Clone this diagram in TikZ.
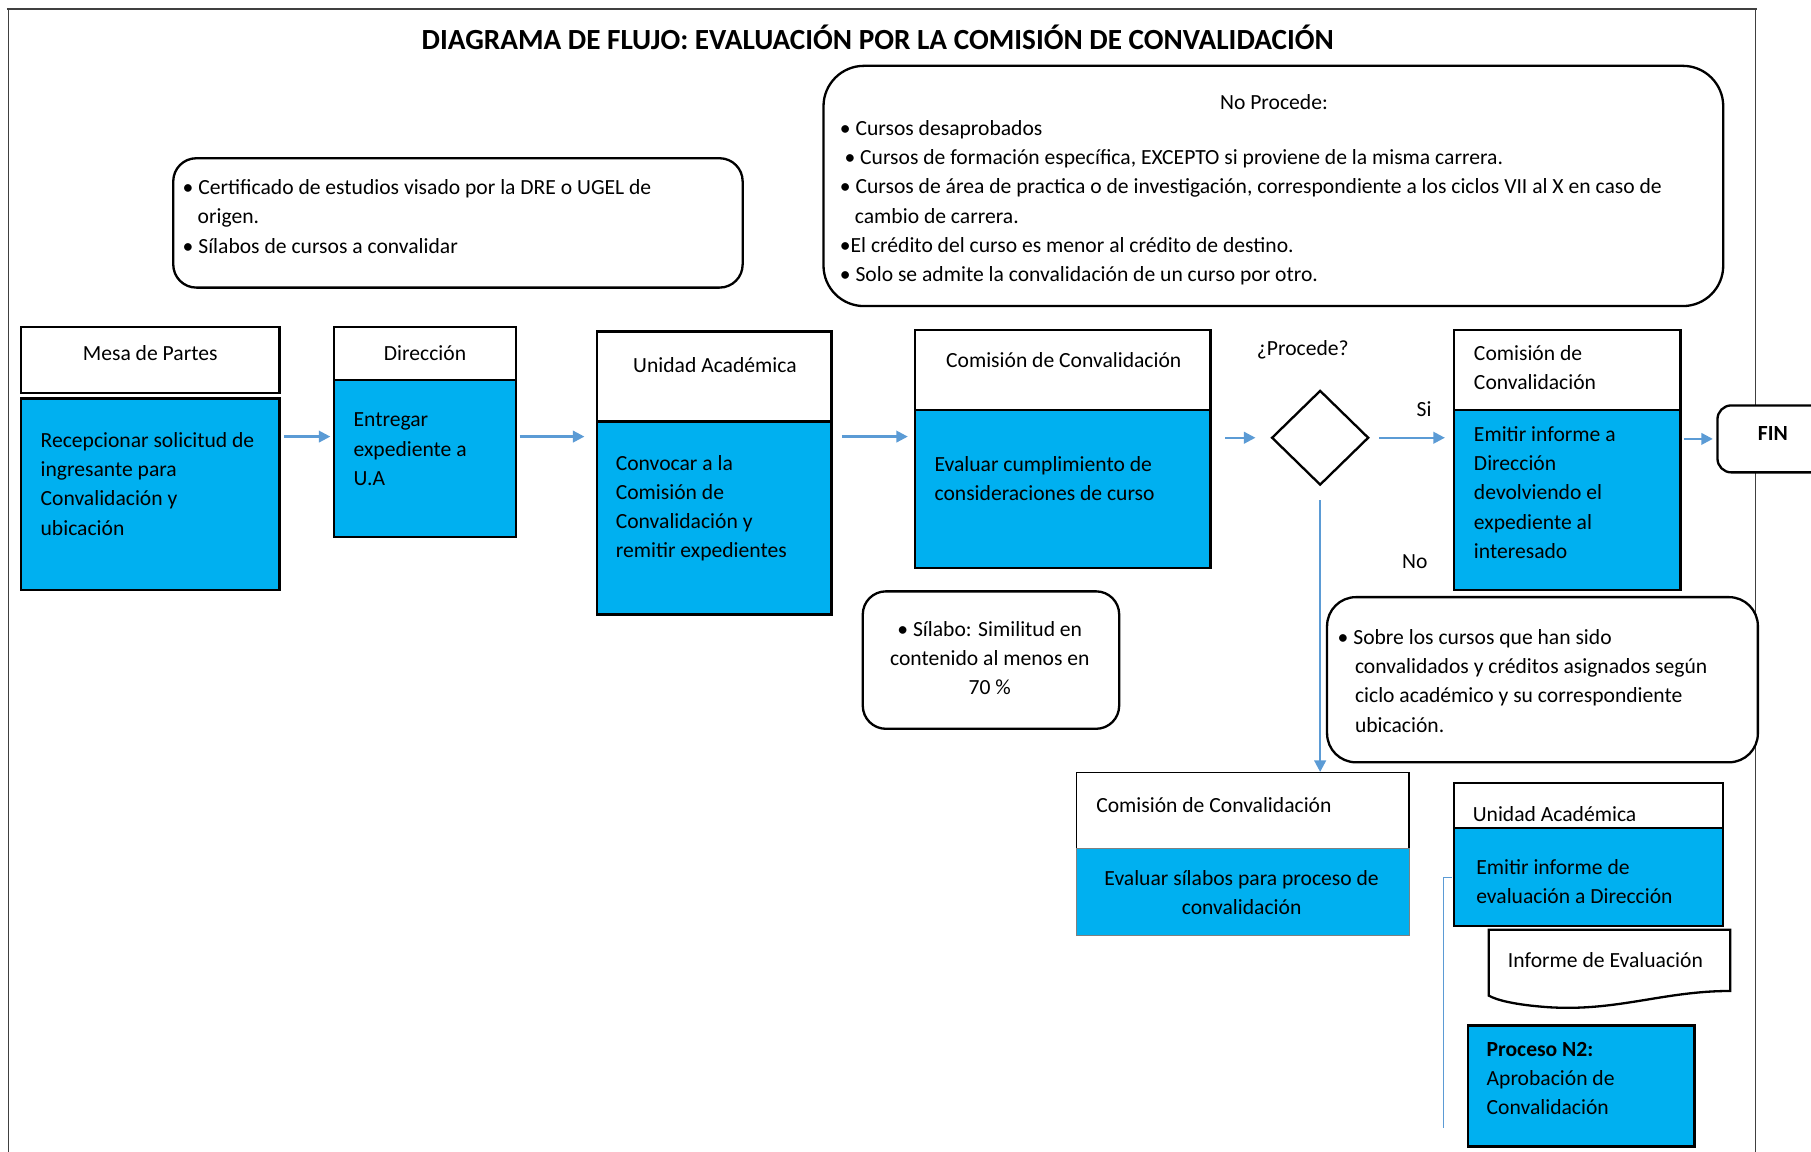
\documentclass[tikz,border=0pt]{standalone}
\usepackage{fontspec}
\setmainfont{Carlito}
\usetikzlibrary{arrows.meta,shapes.geometric,fit}
\definecolor{fillblue}{HTML}{00B0F0}
\definecolor{arrowblue}{HTML}{5B9BD5}
\definecolor{framegray}{HTML}{404040}
\begin{document}
\begin{tikzpicture}[x=1pt,y=-1pt,
  txt/.style={inner sep=0pt, align=left, font=\fontsize{18.7}{25.3}\selectfont},
  ctxt/.style={txt, align=center},
  hdr/.style={draw=black, line width=2pt, fill=white, inner sep=0pt},
  bodybox/.style={draw=black, line width=2pt, fill=fillblue, inner sep=0pt},
  note/.style={draw=black, line width=2pt, rounded corners=20pt, fill=white, inner sep=0pt},
  flow/.style={draw=arrowblue, line width=2pt, -{Triangle[length=10pt,width=10pt]}},
]
\useasboundingbox (0,0) rectangle (1568,997);
% frame
\draw[framegray, line width=1pt] (7,997) -- (7,8);
\draw[framegray, line width=1pt] (1520,8) -- (1520,997);
\draw[framegray, line width=2pt] (6,8) -- (1521,8);
% title
\node[inner sep=0pt, font=\bfseries\fontsize{25.3}{28}\selectfont] (title) at (760,32) {DIAGRAMA DE FLUJO: EVALUACIÓN POR LA COMISIÓN DE CONVALIDACIÓN};

% note 1
\node[note, fit={(150,137) (643,249)}] (note1) {};
\node[txt, anchor=west] (note1t) at (158,187.5) {• Certificado de estudios visado por la DRE o UGEL de\\\hspace{13pt}origen.\\• Sílabos de cursos a convalidar};

% note 2
\node[note, rounded corners=35pt, fit={(713,57) (1492,265)}] (note2) {};
\node[txt] (note2h) at (1103,88) {No Procede:};
\node[txt, anchor=west] (note2t) at (727,175.5) {• Cursos desaprobados\\\hspace{4pt}• Cursos de formación específica, EXCEPTO si proviene de la misma carrera.\\• Cursos de área de practica o de investigación, correspondiente a los ciclos VII al X en caso de\\\hspace{13pt}cambio de carrera.\\•El crédito del curso es menor al crédito de destino.\\• Solo se admite la convalidación de un curso por otro.};

% Mesa de Partes
\node[hdr, fit={(18,283) (242,340)}] (mesah) {};
\node[bodybox, fit={(18,345) (242,511)}] (mesab) {};
\node[txt] (mesaht) at (130,306) {Mesa de Partes};
\node[txt, anchor=west] (mesabt) at (35,419) {Recepcionar solicitud de\\ingresante para\\Convalidación y\\ubicación};

% Direccion
\node[hdr, fit={(289,283) (447,329)}] (dirh) {};
\node[bodybox, fit={(289,329) (447,465)}] (dirb) {};
\node[txt] (dirht) at (368,306) {Dirección};
\node[txt, anchor=west] (dirbt) at (306,389) {Entregar\\expediente a\\U.A};

% Unidad Academica
\node[hdr, fit={(517,287) (720,365)}] (uah) {};
\node[bodybox, fit={(517,365) (720,532)}] (uab) {};
\node[txt] (uaht) at (619,316) {Unidad Académica};
\node[txt, anchor=west] (uabt) at (533,440) {Convocar a la\\Comisión de\\Convalidación y\\remitir expedientes};

% Comision 1
\node[hdr, fit={(792,286) (1048,355)}] (c1h) {};
\node[bodybox, fit={(792,355) (1048,492)}] (c1b) {};
\node[txt] (c1ht) at (921,312) {Comisión de Convalidación};
\node[txt, anchor=west] (c1bt) at (809,414.5) {Evaluar cumplimiento de\\consideraciones de curso};

% decision
\node[diamond, draw=black, line width=2pt, aspect=1, minimum width=84pt, minimum height=82pt, inner sep=0pt] (dia) at (1143,379) {};
\node[txt] (diat) at (1128,303) {¿Procede?};
\node[txt] (si) at (1233,354) {Si};
\node[txt] (no) at (1225,486) {No};

% Comision 2
\node[hdr, fit={(1259,286) (1455,355)}] (c2h) {};
\node[bodybox, fit={(1259,355) (1455,511)}] (c2b) {};
\node[txt, anchor=west] (c2ht) at (1276,318.5) {Comisión de\\Convalidación};
\node[txt, anchor=west] (c2bt) at (1276,426.5) {Emitir informe a\\Dirección\\devolviendo el\\expediente al\\interesado};

% FIN
\node[note, rounded corners=12pt, fit={(1487,351) (1610,409)}] (fin) {};
\node[txt, font=\bfseries\fontsize{18.7}{25.3}\selectfont] (fint) at (1535,375) {FIN};

% Silabo note
\node[note, fit={(747,512) (969,631)}] (sil) {};
\node[ctxt] (silt) at (857,570) {• Sílabo: Similitud en\\contenido al menos en\\70 \%};

% Sobre note
\node[note, rounded corners=25pt, fit={(1149,517) (1522,660)}] (sobre) {};
\node[txt, anchor=west] (sobret) at (1158,589.5) {• Sobre los cursos que han sido\\\hspace{15pt}convalidados y créditos asignados según\\\hspace{15pt}ciclo académico y su correspondiente\\\hspace{15pt}ubicación.};

% Comision 3
\node[hdr, line width=1.2pt, fit={(932,669) (1220,735)}] (c3h) {};
\node[bodybox, draw=black!50, line width=0.8pt, fit={(932,735) (1220,810)}] (c3b) {};
\node[txt, anchor=west] (c3ht) at (949,697) {Comisión de Convalidación};
\node[ctxt] (c3bt) at (1075,773) {Evaluar sílabos para proceso de\\convalidación};

% Unidad Academica 2
\node[hdr, fit={(1259,678) (1492,717)}] (ua2h) {};
\node[bodybox, fit={(1259,717) (1492,802)}] (ua2b) {};
\node[txt, anchor=west] (ua2ht) at (1275,705) {Unidad Académica};
\node[txt, anchor=west] (ua2bt) at (1278,763.5) {Emitir informe de\\evaluación a Dirección};

% Informe de Evaluacion (document)
\draw[line width=2pt, fill=white] (1289,805) -- (1498,805) -- (1498,858)
  .. controls (1440,858) and (1400,876) .. (1340,872)
  .. controls (1312,870) and (1296,866) .. (1289,862) -- cycle;
\node[txt] (inf) at (1390,831) {Informe de Evaluación};

% Proceso N2
\node[bodybox, line width=2.5pt, fit={(1271,888) (1467,993)}] (pn2) {};
\node[txt, anchor=west] (pn2t) at (1287,934) {\textbf{Proceso N2:}\\Aprobación de\\Convalidación};

% connectors
\coordinate (row) at (0,378);
\draw[flow] ([xshift=3pt]mesab.east |- row) -- ([xshift=-2pt]dirh.west |- row);
\draw[flow] ([xshift=2pt]dirb.east |- row) -- ([xshift=-10pt]uah.west |- row);
\draw[flow] ([xshift=8pt]uab.east |- row) -- ([xshift=-5pt]c1h.west |- row);
\draw[flow] ([xshift=12pt]c1b.east |- dia) -- ([xshift=-13pt]dia.west);
\draw[flow] ([xshift=8pt]dia.east) -- ([xshift=-7pt]c2h.west |- dia);
\draw[flow] ([xshift=2pt]c2b.east |- fin) -- ([xshift=-3pt]fin.west);
\draw[flow] ([yshift=-12pt]dia.south) -- (dia.south |- c3h.north);
\coordinate (thinend) at (1250,977);
\draw[arrowblue, line width=1pt] ([xshift=-1pt]ua2b.west) -| (thinend);
\end{tikzpicture}
\end{document}
